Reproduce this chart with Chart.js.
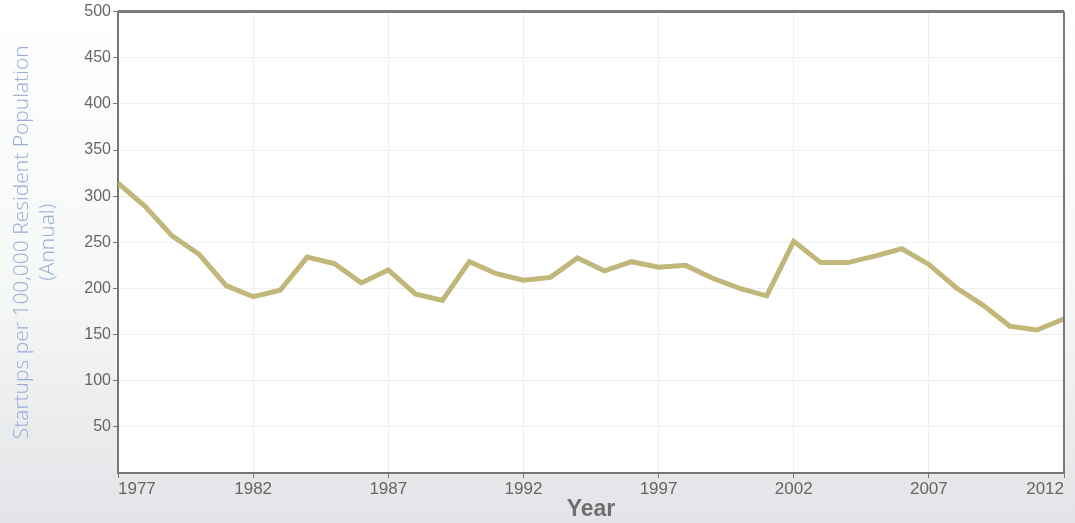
<!DOCTYPE html>
<html>
<head>
<meta charset="utf-8">
<script src="https://cdn.jsdelivr.net/npm/chart.js@4"></script>
<style>
  html, body { margin: 0; padding: 0; }
  body {
    width: 1075px; height: 523px; overflow: hidden;
    background: linear-gradient(to bottom, #ffffff 0%, #f6f7f7 55%, #e3e4e7 100%);
  }
  #wrap { width: 1075px; height: 523px; position: relative; }
</style>
</head>
<body>
<div id="wrap"><canvas id="chart"></canvas></div>
<script>
// startups per 100,000 residents
const years = [1977, 1978, 1979, 1980, 1981, 1982, 1983, 1984, 1985, 1986, 1987, 1988,
  1989, 1990, 1991, 1992, 1993, 1994, 1995, 1996, 1997, 1998, 1999, 2000,
  2001, 2002, 2003, 2004, 2005, 2006, 2007, 2008, 2009, 2010, 2011, 2012];
const startups = [314, 289, 257, 237, 203, 191, 198, 234, 227, 206, 220, 194,
  187, 229, 216, 209, 212, 233, 219, 229, 223, 225, 211, 200,
  192, 251, 228, 228, 235, 243, 226, 201, 182, 159, 155, 167];
const xTicks = [1977, 1982, 1987, 1992, 1997, 2002, 2007, 2012];
const yTicks = [50, 100, 150, 200, 250, 300, 350, 400, 450, 500];

const points = years.map((yr, i) => ({ x: yr, y: startups[i] }));

// white plot area plus the grey top/right frame
const frame = {
  id: 'frame',
  beforeDraw(chart) {
    const a = chart.chartArea, c = chart.ctx;
    c.save();
    c.fillStyle = '#ffffff';
    c.fillRect(a.left, a.top, a.right - a.left, a.bottom - a.top);
    c.restore();
  },
  afterDraw(chart) {
    const a = chart.chartArea, c = chart.ctx;
    c.save();
    c.strokeStyle = '#7a7a7a';
    c.lineWidth = 3;
    c.beginPath();
    c.moveTo(a.left, a.top);
    c.lineTo(a.right, a.top);
    c.stroke();
    c.lineWidth = 2;
    c.beginPath();
    c.moveTo(a.right, a.top);
    c.lineTo(a.right, a.bottom);
    c.stroke();
    c.restore();
  }
};

new Chart(document.getElementById('chart'), {
  type: 'line',
  data: {
    datasets: [{
      label: 'Startups',
      data: points,
      borderColor: '#c2b77a',
      borderWidth: 5,
      pointRadius: 0,
      tension: 0,
      fill: false
    }]
  },
  options: {
    responsive: true,
    maintainAspectRatio: false,
    animation: false,
    layout: { padding: { top: 9, right: 11, left: 0, bottom: 0 } },
    plugins: { legend: { display: false }, tooltip: { enabled: false } },
    scales: {
      x: {
        type: 'linear',
        min: 1977,
        max: 2012,
        afterBuildTicks: (s) => { s.ticks = xTicks.map(v => ({ value: v })); },
        afterFit: (s) => { s.height = 50; s.paddingLeft = 0; s.paddingRight = 0; },
        ticks: {
          align: 'inner',
          maxRotation: 0,
          padding: 1,
          color: '#666666',
          font: { family: 'Liberation Sans', size: 17 },
          callback: (v) => String(v)
        },
        grid: { color: '#efefef', tickColor: '#777777', tickLength: 5, lineWidth: 1 },
        border: { color: '#777777', width: 2 },
        title: {
          display: true,
          text: 'Year',
          color: '#6e6e6e',
          font: { family: 'Liberation Sans', size: 23, weight: 'bold' },
          padding: { top: 0, bottom: 0 }
        }
      },
      y: {
        min: 0,
        max: 500,
        afterBuildTicks: (s) => { s.ticks = yTicks.map(v => ({ value: v })); },
        afterFit: (s) => { s.width = 118; },
        ticks: {
          padding: 2,
          color: '#666666',
          font: { family: 'Liberation Sans', size: 16 }
        },
        grid: { color: '#efefef', tickColor: '#777777', tickLength: 5, lineWidth: 1 },
        border: { color: '#777777', width: 2 },
        title: {
          display: true,
          text: ['Startups per 100,000 Resident Population', '(Annual)'],
          color: '#98acd6',
          font: { family: 'Open Sans', size: 21, weight: '300', lineHeight: 1.25 },
          padding: { top: 9, bottom: 0 }
        }
      }
    }
  },
  plugins: [frame]
});
</script>
</body>
</html>
